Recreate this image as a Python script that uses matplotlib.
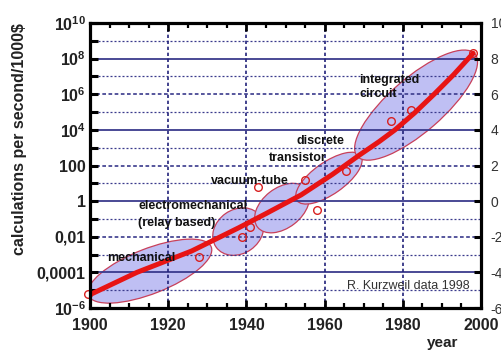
#!/usr/bin/env python3
# Kurzweil: calculations per second per 1000$ over the 20th century
import matplotlib
matplotlib.use("Agg")
import matplotlib.pyplot as plt
from matplotlib.patches import Ellipse
from matplotlib.transforms import ScaledTranslation

plt.rcParams["font.family"] = ["Liberation Sans", "DejaVu Sans"]
plt.rcParams["mathtext.default"] = "regular"

# trend line (log10 of calculations per second per 1000$)
trend_years = [1900, 1912, 1926, 1938, 1945, 1954, 1962, 1969, 1974, 1978, 1983, 1988, 1993, 1998]
trend_log = [-5.25, -4.0, -2.8, -1.5, -0.7, 0.35, 1.5, 2.6, 3.35, 4.0, 4.95, 6.0, 7.1, 8.3]

# single machines (open circles)
point_years = [1899.5, 1928, 1939, 1941, 1943, 1955, 1958, 1965.6, 1977, 1982, 1998]
point_log = [-5.24, -3.16, -2.04, -1.48, 0.8, 1.18, -0.5, 1.7, 4.49, 5.1, 8.3]

# technology groups: label, centre year, centre log10
groups = ["mechanical", "electromechanical", "vacuum-tube", "discrete transistor", "integrated circuit"]
group_years = [1915.3, 1937.9, 1949.1, 1961.1, 1983.4]
group_log = [-3.93, -1.71, -0.39, 1.29, 5.39]

left_ticks = [10, 8, 6, 4, 2, 0, -2, -4, -6]
left_labels = ["$10^{10}$", "$10^{8}$", "$10^{6}$", "$10^{4}$", "100", "1", "0,01", "0,0001", "$10^{-6}$"]
right_ticks = [10, 8, 6, 4, 2, 0, -2, -4, -6]
year_ticks = [1900, 1920, 1940, 1960, 1980, 2000]

fig = plt.figure(figsize=(5.01, 3.56), dpi=100)
ax = fig.add_axes([90 / 501, 48 / 356, 391 / 501, 285 / 356])
ax.set_xlim(1900, 2000)
ax.set_ylim(-6, 10)

# ellipse sizes in pixels (semi axes) and screen angle
shape = {"mechanical": (66, 22.5, 21.5), "electromechanical": (27, 22, 35),
         "vacuum-tube": (31, 20, 38), "discrete transistor": (39, 16, 35),
         "integrated circuit": (78, 27, 41)}
for g, cx, cy in zip(groups, group_years, group_log):
    a, b, ang = shape[g]
    tr = fig.dpi_scale_trans + ScaledTranslation(cx, cy, ax.transData)
    e = Ellipse((0, 0), 2 * a / 100, 2 * b / 100, angle=ang, transform=tr,
                facecolor="#bfbff3", edgecolor="#c8405a", lw=0.9, zorder=1)
    ax.add_patch(e)

# grid
grid_c = "#3a3a8c"
for v in range(-5, 10):
    if v % 4 == 0:
        ax.axhline(v, color=grid_c, lw=1.3, zorder=1.5)
    elif v % 2 == 0:
        ax.axhline(v, color=grid_c, lw=1.2, ls=(0, (2.2, 1.5)), zorder=1.5)
    else:
        ax.axhline(v, color=grid_c, lw=0.9, ls=(0, (1.6, 1.6)), zorder=1.5)
for yr in year_ticks[1:-1]:
    ax.axvline(yr, color="#22227a", lw=1.2, ls=(0, (2, 1.6)), zorder=1.5)

ax.plot(point_years, point_log, "o", ms=5.5, mfc="none", mec="#d82020", mew=1.0,
        zorder=2.5, clip_on=False)
ax.plot(trend_years, trend_log, color="#e81414", lw=3.6, solid_capstyle="round",
        solid_joinstyle="round", zorder=3)

# labels
tkw = dict(fontsize=9, fontweight="bold", color="#111111", zorder=5)
ax.text(1968.8, 6.4, "integrated\ncircuit", ha="left", va="center", linespacing=1.15, **tkw)
ax.text(1959.0, 3.37, "discrete", ha="center", va="center", **tkw)
ax.text(1953.2, 2.42, "transistor", ha="center", va="center", **tkw)
ax.text(1941.0, 1.12, "vacuum-tube", ha="center", va="center", **tkw)
ax.text(1912.4, -0.28, "electromechanical", ha="left", va="center", **tkw)
ax.text(1912.4, -1.21, "(relay based)", ha="left", va="center", **tkw)
ax.text(1904.3, -3.2, "mechanical", ha="left", va="center", **tkw)
ax.text(1965.7, -4.78, "R. Kurzweil data 1998", ha="left", va="center",
        fontsize=9, color="#333333", zorder=5)

# axes and ticks
for s in ax.spines.values():
    s.set_linewidth(2.3)
    s.set_zorder(6)
ax.set_xticks(year_ticks)
ax.set_xticks(range(1905, 2000, 5), minor=True)
ax.set_xticklabels([str(y) for y in year_ticks], fontsize=11.5, fontweight="bold", color="#222222")
ax.set_yticks(range(-6, 11))
ax.set_yticklabels([left_labels[left_ticks.index(v)] if v in left_ticks else "" for v in range(-6, 11)],
                   fontsize=11.5, fontweight="bold", color="#222222")
ax.tick_params(axis="y", which="major", direction="in", length=6, width=2.2, pad=3,
               left=True, right=False)
ax.tick_params(axis="x", which="major", direction="in", length=6, width=2, pad=7,
               top=True, bottom=True)
ax.tick_params(axis="x", which="minor", direction="in", length=3.5, width=1.6,
               top=True, bottom=True)

ax2 = ax.twinx()
ax2.set_ylim(-6, 10)
ax2.set_yticks(right_ticks)
ax2.set_yticklabels([str(v) for v in right_ticks], fontsize=10, color="#333333")
ax2.tick_params(axis="y", direction="in", length=5, width=2.2, pad=7)
for s in ax2.spines.values():
    s.set_visible(False)

fig.text(20 / 501, 1 - 139 / 356, "calculations per second/1000$", rotation=90,
         ha="center", va="center", fontsize=11.5, fontweight="bold", color="#222222")
fig.text(443 / 501, 1 - 343.5 / 356, "year", ha="center", va="center",
         fontsize=11, fontweight="bold", color="#222222")

fig.savefig("out.png", dpi=100)
